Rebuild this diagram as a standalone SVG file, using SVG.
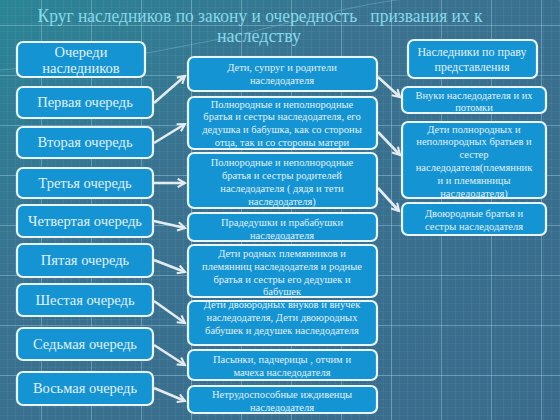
<svg xmlns="http://www.w3.org/2000/svg" width="560" height="420" viewBox="0 0 560 420">
<defs>
<linearGradient id="bg" x1="0" y1="0" x2="1" y2="1">
<stop offset="0" stop-color="#2a8595"/>
<stop offset="0.35" stop-color="#3a7290"/>
<stop offset="1" stop-color="#3a6b8c"/>
</linearGradient>
<pattern id="fine" width="8" height="8" patternUnits="userSpaceOnUse">
<path d="M8 0V8M0 8H8" stroke="#6aa0bc" stroke-width="0.6" fill="none" opacity="0.45"/>
</pattern>
<pattern id="major" x="-8" y="-24" width="50" height="50" patternUnits="userSpaceOnUse">
<path d="M50 0V50M0 50H50" stroke="#b8e2f2" stroke-width="1" fill="none" opacity="0.7"/>
</pattern>
<marker id="ah" viewBox="0 0 10 10" refX="8" refY="5" markerWidth="4" markerHeight="4" orient="auto" markerUnits="strokeWidth">
<path d="M1 1L8 5L1 9" fill="none" stroke="#e4ecef" stroke-width="2"/>
</marker>
</defs>
<style>
.box{fill:#1494d2;stroke:#eaf5fa;stroke-width:2.2}
text{font-family:"Liberation Serif","DejaVu Serif","Times New Roman",serif}
.t{fill:#e2f1fa;text-anchor:middle}
.l{font-size:14.5px}
.m{font-size:10.5px}
.r{font-size:12px}
.h{font-size:18px;fill:#86d9ea}
.c{stroke:#e4ecef;stroke-width:2.6;fill:none;marker-end:url(#ah)}
</style>
<rect width="560" height="420" fill="url(#bg)"/>
<rect width="560" height="420" fill="url(#fine)"/>
<rect width="560" height="420" fill="url(#major)"/>
<path d="M0 70 Q150 60 300 20 T560 0" stroke="#9ad7e6" stroke-width="1" fill="none" opacity="0.3"/>
<g id="title">
<text class="t h" x="260" y="22" xml:space="preserve" textLength="445" lengthAdjust="spacingAndGlyphs">Круг наследников по закону и очередность   призвания их к</text>
<text class="t h" x="259" y="42">наследству</text>
</g>
<g id="connectors">
<line class="c" x1="154" y1="103" x2="185" y2="76"/>
<line class="c" x1="154" y1="143" x2="185" y2="124"/>
<line class="c" x1="154" y1="183" x2="185" y2="183"/>
<line class="c" x1="154" y1="221" x2="185" y2="228"/>
<line class="c" x1="154" y1="260" x2="185" y2="272"/>
<line class="c" x1="154" y1="301" x2="185" y2="323"/>
<line class="c" x1="154" y1="345" x2="185" y2="365"/>
<line class="c" x1="154" y1="388" x2="185" y2="401"/>
<line class="c" x1="378" y1="77" x2="400" y2="97"/>
<line class="c" x1="378" y1="132" x2="400" y2="155"/>
<line class="c" x1="378" y1="188" x2="399" y2="211"/>
</g>
<g id="n-header-left"><rect class="box" x="17" y="42" width="128" height="35" rx="6"/><text class="t l" x="81" y="57">Очереди</text><text class="t l" x="81" y="73">наследников</text></g>
<g id="n-q1"><rect class="box" x="17" y="87" width="136" height="31" rx="6"/><text class="t l" x="85" y="107">Первая очередь</text></g>
<g id="n-q2"><rect class="box" x="17" y="127" width="136" height="31" rx="6"/><text class="t l" x="85" y="147">Вторая очередь</text></g>
<g id="n-q3"><rect class="box" x="17" y="168" width="136" height="30" rx="6"/><text class="t l" x="85" y="188">Третья очередь</text></g>
<g id="n-q4"><rect class="box" x="17" y="205" width="136" height="32" rx="6"/><text class="t l" x="85" y="226">Четвертая очередь</text></g>
<g id="n-q5"><rect class="box" x="17" y="244" width="136" height="33" rx="6"/><text class="t l" x="85" y="265">Пятая очередь</text></g>
<g id="n-q6"><rect class="box" x="17" y="284" width="136" height="32" rx="6"/><text class="t l" x="85" y="305">Шестая очередь</text></g>
<g id="n-q7"><rect class="box" x="17" y="328" width="136" height="32" rx="6"/><text class="t l" x="85" y="349">Седьмая очередь</text></g>
<g id="n-q8"><rect class="box" x="17" y="372" width="136" height="33" rx="6"/><text class="t l" x="85" y="393">Восьмая очередь</text></g>
<g id="n-m1"><rect class="box" x="188" y="57" width="189" height="34" rx="6"/><text class="t m" x="282" y="71">Дети, супруг и родители</text><text class="t m" x="282" y="84">наследодателя</text></g>
<g id="n-m2"><rect class="box" x="188" y="97" width="189" height="52" rx="6"/><text class="t m" x="282" y="108">Полнородные и неполнородные</text><text class="t m" x="282" y="120">братья и сестры наследодателя, его</text><text class="t m" x="282" y="133">дедушка и бабушка, как со стороны</text><text class="t m" x="282" y="146">отца, так и со стороны матери</text></g>
<g id="n-m3"><rect class="box" x="188" y="153" width="189" height="55" rx="6"/><text class="t m" x="282" y="166">Полнородные и неполнородные</text><text class="t m" x="282" y="179">братья и сестры родителей</text><text class="t m" x="282" y="192">наследодателя ( дядя и тети</text><text class="t m" x="282" y="205">наследодателя)</text></g>
<g id="n-m4"><rect class="box" x="188" y="213" width="189" height="28" rx="6"/><text class="t m" x="282" y="226">Прадедушки и прабабушки</text><text class="t m" x="282" y="239">наследодателя</text></g>
<g id="n-m5"><rect class="box" x="188" y="245" width="189" height="52" rx="6"/><text class="t m" x="282" y="257">Дети родных племянников и</text><text class="t m" x="282" y="270">племянниц наследодателя и родные</text><text class="t m" x="282" y="283">братья и сестры его дедушек и</text><text class="t m" x="282" y="295">бабушек</text></g>
<g id="n-m6"><rect class="box" x="188" y="301" width="189" height="44" rx="6"/><text class="t m" x="282" y="308">Дети двоюродных внуков и внучек</text><text class="t m" x="282" y="321">наследодателя, Дети двоюродных</text><text class="t m" x="282" y="334">бабушек и дедушек наследодателя</text></g>
<g id="n-m7"><rect class="box" x="188" y="350" width="189" height="30" rx="6"/><text class="t m" x="282" y="363">Пасынки, падчерицы , отчим и</text><text class="t m" x="282" y="376">мачеха наследодателя</text></g>
<g id="n-m8"><rect class="box" x="188" y="386" width="189" height="27" rx="6"/><text class="t m" x="282" y="398">Нетрудоспособные иждивенцы</text><text class="t m" x="282" y="411">наследодателя</text></g>
<g id="n-header-right"><rect class="box" x="408" y="40" width="129" height="38" rx="6"/><text class="t r" x="472" y="56">Наследники по праву</text><text class="t r" x="472" y="71">представления</text></g>
<g id="n-r1"><rect class="box" x="402" y="87" width="144" height="26" rx="6"/><text class="t m" x="474" y="99">Внуки наследодателя и их</text><text class="t m" x="474" y="111">потомки</text></g>
<g id="n-r2"><rect class="box" x="402" y="122" width="144" height="76" rx="6"/><text class="t m" x="474" y="133">Дети полнородных и</text><text class="t m" x="474" y="145">неполнородных братьев и</text><text class="t m" x="474" y="158">сестер</text><text class="t m" x="474" y="171">наследодателя(племянник</text><text class="t m" x="474" y="184">и и племянницы</text><text class="t m" x="474" y="197">наследодателя)</text></g>
<g id="n-r3"><rect class="box" x="402" y="203" width="144" height="32" rx="6"/><text class="t m" x="474" y="217">Двоюродные братья и</text><text class="t m" x="474" y="230">сестры наследодателя</text></g>
</svg>
